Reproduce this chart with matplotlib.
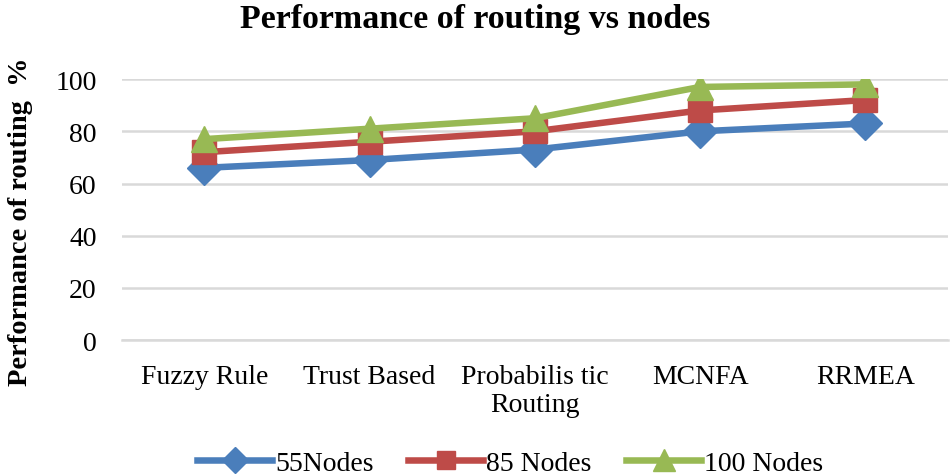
import numpy as np
import matplotlib
matplotlib.use("Agg")
import matplotlib.pyplot as plt

# chart data
categories = ["Fuzzy Rule", "Trust Based", "Probabilis tic\nRouting", "MCNFA", "RRMEA"]
nodes55 = [66, 69, 73, 80, 83]
nodes85 = [72, 76, 80, 88, 92]
nodes100 = [77, 81, 85, 97, 98]
series_names = ["55Nodes", "85 Nodes", "100 Nodes"]

plt.rcParams['font.family'] = ['Liberation Serif', 'DejaVu Serif']

fig = plt.figure(figsize=(9.5, 4.77), dpi=100)
ax = fig.add_axes([0.128, 0.285, 0.870, 0.547])

x = np.arange(len(categories))
ax.plot(x, nodes55, color='#4A7EBB', lw=4.7, marker='D', ms=17, label=series_names[0])
ax.plot(x, nodes85, color='#BE4B48', lw=4.7, marker='s', ms=17, label=series_names[1])
ax.plot(x, nodes100, color='#98B954', lw=4.7, marker='^', ms=19, label=series_names[2])

ax.set_xlim(-0.5, len(categories) - 0.5)
ax.set_ylim(0, 100)
ax.set_yticks(range(0, 101, 20))
ax.set_xticks(x)
ax.set_xticklabels(categories, fontsize=20, linespacing=1.15)
ax.tick_params(axis='y', labelsize=20, length=0, pad=18)
ax.tick_params(axis='x', length=0, pad=17)
ax.grid(axis='y', color='#D9D9D9', lw=1.8)
ax.set_axisbelow(True)
for s in ['top', 'right', 'left']:
    ax.spines[s].set_visible(False)
ax.spines['bottom'].set_color('#D9D9D9')
ax.spines['bottom'].set_linewidth(1.8)

fig.text(0.5, 0.96, "Performance of routing vs nodes", ha='center', va='center',
         fontsize=24.5, fontweight='bold')
fig.text(0.022, 0.536, "Performance of routing  %", rotation=90, ha='center', va='center',
         fontsize=20.5, fontweight='bold')

leg = fig.legend(loc='center', bbox_to_anchor=(0.537, 0.027), ncol=3, frameon=False,
                 fontsize=20, handlelength=2.7, columnspacing=1.25, handletextpad=0.1,
                 markerscale=0.8)

fig.savefig("out.png", dpi=100)
